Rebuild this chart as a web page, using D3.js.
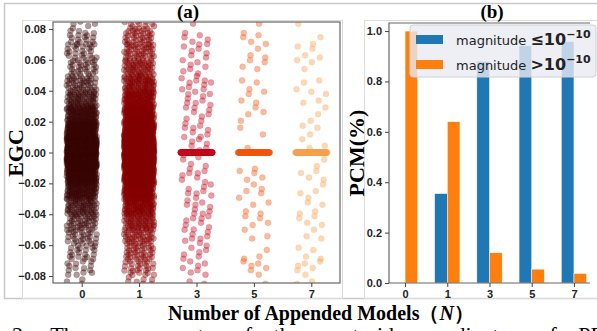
<!DOCTYPE html>
<html>
<head>
<meta charset="utf-8">
<script src="https://cdn.jsdelivr.net/npm/d3@7"></script>
<style>
  body { margin: 0; background: #fff; overflow: hidden; }
  svg { display: block; }
</style>
</head>
<body>
<script>
// categories (number of appended models)
var cats = ["0", "1", "3", "5", "7"];
var dotColors = ["#3a0505", "#850000", "#c40a1e", "#f0560f", "#f5a04d"];

// EGC histogram: bin lower edges (width 0.01) and point counts per bin, per category
var binLo = [-0.09, -0.08, -0.07, -0.06, -0.05, -0.04, -0.03, -0.02, -0.01,
              0.00, 0.01, 0.02, 0.03, 0.04, 0.05, 0.06, 0.07, 0.08];
var counts0 = [6, 14, 20, 28, 40, 60, 100, 170, 350, 350, 170, 100, 60, 40, 28, 22, 18, 10];
var counts1 = [12, 25, 35, 45, 65, 95, 140, 230, 420, 420, 230, 140, 100, 75, 55, 42, 35, 22];
var counts3 = [4, 7, 7, 8, 8, 9, 8, 8, 6, 7, 8, 8, 9, 10, 7, 7, 6, 3];
var counts5 = [1, 6, 3, 3, 4, 4, 5, 5, 0, 1, 2, 4, 4, 3, 4, 3, 5, 2];
var counts7 = [3, 6, 4, 3, 4, 4, 4, 4, 3, 3, 3, 3, 4, 3, 3, 4, 2, 2];
var binCounts = [counts0, counts1, counts3, counts5, counts7];
// values exactly at zero
var zeroCounts = [0, 0, 220, 120, 120];

// PCM bars
var pcmLow = [0.0, 0.355, 0.88, 0.942, 0.958];   // magnitude <= 1e-10
var pcmHigh = [1.0, 0.64, 0.12, 0.055, 0.038];   // magnitude > 1e-10
var yTicksA = [-0.08, -0.06, -0.04, -0.02, 0, 0.02, 0.04, 0.06, 0.08];
var yTicksB = [0, 0.2, 0.4, 0.6, 0.8, 1.0];

var W = 597, H = 331;
var svg = d3.select("body").append("svg").attr("width", W).attr("height", H);

var serif = "'Liberation Serif', 'Times New Roman', serif";
var sans = "'Liberation Sans', Arial, sans-serif";

// frames
svg.append("rect").attr("x", 4.5).attr("y", 3.5).attr("width", 600).attr("height", 295)
  .attr("fill", "none").attr("stroke", "#c8c8c8").attr("stroke-width", 1.5);
svg.append("rect").attr("x", 22.5).attr("y", 20.5).attr("width", 320).attr("height", 278)
  .attr("fill", "none").attr("stroke", "#dcdcdc");
svg.append("rect").attr("x", 364.5).attr("y", 20.5).attr("width", 240).attr("height", 278)
  .attr("fill", "none").attr("stroke", "#dcdcdc");

// ---------- panel (a) ----------
var A = { l: 53, r: 340, t: 22, b: 283 };
var xA = d3.scalePoint().domain(cats).range([A.l, A.r]).padding(0.5);
var yA = d3.scaleLinear().domain([-0.0845, 0.0845]).range([A.b, A.t]);

svg.append("clipPath").attr("id", "clipA").append("rect")
  .attr("x", A.l).attr("y", A.t).attr("width", A.r - A.l).attr("height", A.b - A.t);

// build point list (layout within bin uses low-discrepancy sequence)
var pts = [];
cats.forEach(function(c, ci) {
  var k = 0;
  binCounts[ci].forEach(function(n, bi) {
    for (var j = 0; j < n; j++, k++) {
      var u = (0.5 + k * 0.7548776662 + ci * 0.13) % 1;
      var v = (0.5 + j * 0.5698402910 + bi * 0.31) % 1;
      pts.push({ c: ci, dx: (u - 0.5) * 30, val: binLo[bi] + v * 0.01 });
    }
  });
  for (var z = 0; z < zeroCounts[ci]; z++) {
    var u2 = (0.5 + z * 0.6180339887) % 1;
    pts.push({ c: ci, dx: (u2 - 0.5) * 32, val: 0 });
  }
});

svg.append("g").attr("clip-path", "url(#clipA)")
  .selectAll("circle").data(pts).enter().append("circle")
  .attr("cx", function(d) { return xA(cats[d.c]) + d.dx; })
  .attr("cy", function(d) { return yA(d.val); })
  .attr("r", 3)
  .attr("fill", function(d) { return dotColors[d.c]; })
  .attr("fill-opacity", 0.4)
  .attr("stroke", function(d) { return dotColors[d.c]; })
  .attr("stroke-opacity", 0.25)
  .attr("stroke-width", 0.6);

svg.append("rect").attr("x", A.l).attr("y", A.t).attr("width", A.r - A.l).attr("height", A.b - A.t)
  .attr("fill", "none").attr("stroke", "#666").attr("stroke-width", 1.2);

var axAy = svg.append("g").attr("transform", "translate(" + A.l + ",0)")
  .call(d3.axisLeft(yA).tickValues(yTicksA).tickFormat(d3.format(".2f")).tickSize(4).tickSizeOuter(0));
var axAx = svg.append("g").attr("transform", "translate(0," + A.b + ")")
  .call(d3.axisBottom(xA).tickSize(4).tickSizeOuter(0));

// ---------- panel (b) ----------
var B = { l: 389, r: 590, t: 23, b: 283 };
var xB = d3.scaleLinear().domain([-0.38, 4.38]).range([B.l, B.r]);
var yB = d3.scaleLinear().domain([0, 1.032]).range([B.b, B.t]);
var bw = 0.3;

svg.append("g").selectAll("rect").data(pcmLow).enter().append("rect")
  .attr("x", function(d, i) { return xB(i - bw); })
  .attr("width", xB(bw) - xB(0))
  .attr("y", function(d) { return yB(d); })
  .attr("height", function(d) { return yB(0) - yB(d); })
  .attr("fill", "#1f77b4").attr("stroke", "#fff").attr("stroke-width", 0.5);
svg.append("g").selectAll("rect").data(pcmHigh).enter().append("rect")
  .attr("x", function(d, i) { return xB(i); })
  .attr("width", xB(bw) - xB(0))
  .attr("y", function(d) { return yB(d); })
  .attr("height", function(d) { return yB(0) - yB(d); })
  .attr("fill", "#ff7f0e").attr("stroke", "#fff").attr("stroke-width", 0.5);

svg.append("path").attr("d", "M" + B.r + "," + B.t + "H" + B.l + "V" + B.b + "H" + B.r)
  .attr("fill", "none").attr("stroke", "#666").attr("stroke-width", 1.2);

var axBy = svg.append("g").attr("transform", "translate(" + B.l + ",0)")
  .call(d3.axisLeft(yB).tickValues(yTicksB).tickFormat(d3.format(".1f")).tickSize(4).tickSizeOuter(0));
var axBx = svg.append("g").attr("transform", "translate(0," + B.b + ")")
  .call(d3.axisBottom(xB).tickValues([0, 1, 2, 3, 4]).tickFormat(function(i) { return cats[i]; })
    .tickSize(4).tickSizeOuter(0));

[axAy, axAx, axBy, axBx].forEach(function(g) {
  g.select(".domain").remove();
  g.selectAll(".tick line").attr("stroke", "#444");
  g.selectAll(".tick text").attr("fill", "#222").style("font-family", sans)
    .style("font-size", "11px").style("font-weight", "bold");
});

// legend
var lg = svg.append("g");
lg.append("rect").attr("x", 410).attr("y", 25).attr("width", 186).attr("height", 52).attr("rx", 3)
  .attr("fill", "#eaeaf2").attr("fill-opacity", 0.8).attr("stroke", "#d0d0d8");
lg.append("rect").attr("x", 416).attr("y", 35).attr("width", 27).attr("height", 9).attr("fill", "#1f77b4");
lg.append("rect").attr("x", 416).attr("y", 60).attr("width", 27).attr("height", 9).attr("fill", "#ff7f0e");
var dv = "'DejaVu Sans', Verdana, sans-serif";
function legText(y, sym) {
  var t = lg.append("text").attr("x", 456).attr("y", y).attr("fill", "#222").style("font-family", dv);
  t.append("tspan").style("font-size", "13px").text("magnitude ");
  t.append("tspan").style("font-size", "16px").style("font-weight", "bold").text(sym + "10");
  t.append("tspan").attr("dy", -7).style("font-size", "11px").style("font-weight", "bold").text("\u221210");
}
legText(45, " \u2264");
legText(70, ">");

// titles and labels
svg.append("text").attr("x", 188).attr("y", 18).attr("text-anchor", "middle")
  .style("font-family", serif).style("font-weight", "bold").style("font-size", "19px").text("(a)");
svg.append("text").attr("x", 492).attr("y", 18).attr("text-anchor", "middle")
  .style("font-family", serif).style("font-weight", "bold").style("font-size", "19px").text("(b)");
svg.append("text").attr("transform", "translate(23,153) rotate(-90)").attr("text-anchor", "middle")
  .style("font-family", serif).style("font-weight", "bold").style("font-size", "22px").text("EGC");
svg.append("text").attr("transform", "translate(364,153) rotate(-90)").attr("text-anchor", "middle")
  .style("font-family", serif).style("font-weight", "bold").style("font-size", "22px").text("PCM(%)");

var xl = svg.append("text").attr("x", 321).attr("y", 320).attr("text-anchor", "middle")
  .style("font-family", serif).style("font-weight", "bold").style("font-size", "20px");
xl.append("tspan").text("Number of Appended Models\uff08");
xl.append("tspan").style("font-style", "italic").text("N");
xl.append("tspan").text("\uff09");

svg.append("text").attr("x", 12).attr("y", 342)
  .style("font-family", serif).style("font-size", "22px").style("word-spacing", "16px")
  .text("2: The components of the centroid coordinates of PPC");
</script>
</body>
</html>
